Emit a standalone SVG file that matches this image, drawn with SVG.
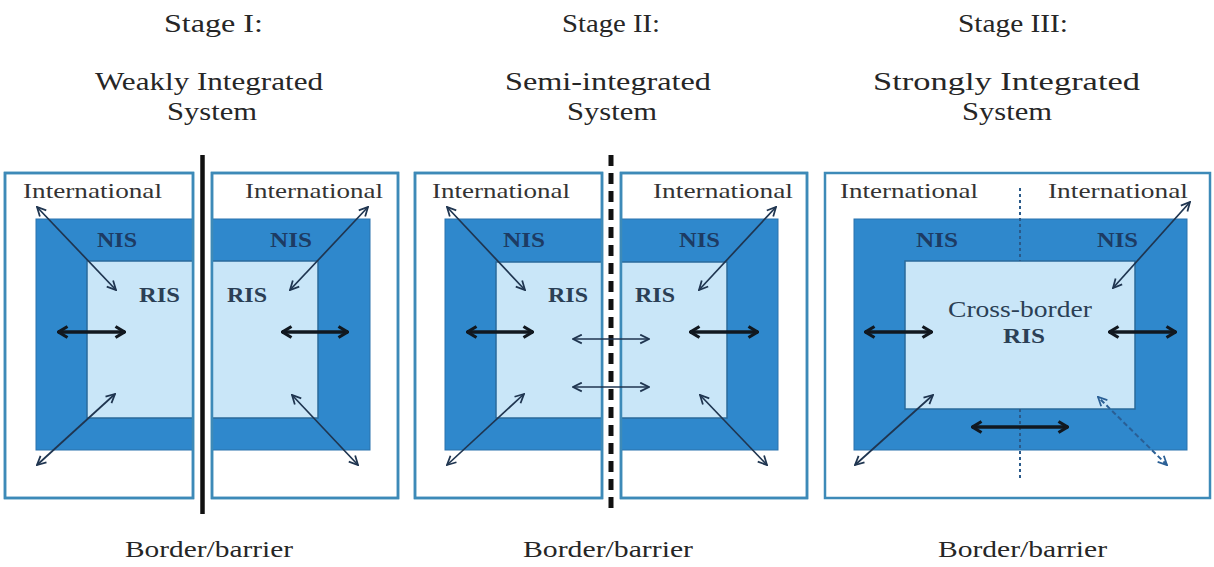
<svg xmlns="http://www.w3.org/2000/svg" width="1214" height="567" viewBox="0 0 1214 567">
<defs>
<style>
.title{font-family:"Liberation Serif","Times New Roman",serif;font-size:25px;fill:#262626}
.foot{font-family:"Liberation Serif","Times New Roman",serif;font-size:24px;fill:#262626}
.intl{font-family:"Liberation Serif","Times New Roman",serif;font-size:22px;fill:#333333}
.nis{font-family:"Liberation Serif","Times New Roman",serif;font-size:21px;font-weight:bold;fill:#1d3b63}
.ris{font-family:"Liberation Serif","Times New Roman",serif;font-size:21px;font-weight:bold;fill:#2b3f55}
.cb{font-family:"Liberation Serif","Times New Roman",serif;font-size:23px;fill:#2b3f55}
.outer{fill:#ffffff;stroke:#3d8ab8;stroke-width:2.5}
.nisr{fill:#2f88cc;stroke:#2a72ad;stroke-width:1}
.risr{fill:#c9e6f8;stroke:#2a6a9a;stroke-width:1.5}
.thin{stroke:#1f3550;stroke-width:1.7;fill:none;marker-start:url(#mThin);marker-end:url(#mThin)}
.thick{stroke:#111820;stroke-width:3.5;fill:none;marker-start:url(#mThick);marker-end:url(#mThick)}
.dash{stroke:#2a5f95;stroke-width:2;stroke-dasharray:5 3;fill:none;marker-start:url(#mDash);marker-end:url(#mDash)}
</style>
<marker id="mThin" viewBox="0 0 10 10" refX="9" refY="5" markerWidth="11" markerHeight="11" markerUnits="userSpaceOnUse" orient="auto-start-reverse">
<path d="M1,1 L9,5 L1,9" fill="none" stroke="#1f3550" stroke-width="1.6"/>
</marker>
<marker id="mThick" viewBox="0 0 12 14" refX="11" refY="7" markerWidth="12" markerHeight="14" markerUnits="userSpaceOnUse" orient="auto-start-reverse">
<path d="M1.5,1.5 L10.5,7 L1.5,12.5" fill="none" stroke="#111820" stroke-width="3.2"/>
</marker>
<marker id="mDash" viewBox="0 0 10 10" refX="9" refY="5" markerWidth="11" markerHeight="11" markerUnits="userSpaceOnUse" orient="auto-start-reverse">
<path d="M1,1 L9,5 L1,9" fill="none" stroke="#2a5f95" stroke-width="1.6"/>
</marker>
</defs>
<rect width="1214" height="567" fill="#ffffff"/>

<g id="titles">
<text class="title" x="164" y="32" textLength="99" lengthAdjust="spacingAndGlyphs">Stage I:</text>
<text class="title" x="562" y="32" textLength="98" lengthAdjust="spacingAndGlyphs">Stage II:</text>
<text class="title" x="958" y="32" textLength="110" lengthAdjust="spacingAndGlyphs">Stage III:</text>
<text class="title" x="95" y="90" textLength="228" lengthAdjust="spacingAndGlyphs">Weakly Integrated</text>
<text class="title" x="505" y="90" textLength="206" lengthAdjust="spacingAndGlyphs">Semi-integrated</text>
<text class="title" x="873" y="90" textLength="267" lengthAdjust="spacingAndGlyphs">Strongly Integrated</text>
<text class="title" x="167" y="120" textLength="90" lengthAdjust="spacingAndGlyphs">System</text>
<text class="title" x="567" y="120" textLength="90" lengthAdjust="spacingAndGlyphs">System</text>
<text class="title" x="962" y="120" textLength="90" lengthAdjust="spacingAndGlyphs">System</text>
</g>

<g id="s1-left">
<rect class="outer" x="5" y="173" width="188" height="325"/>
<rect class="nisr" x="36" y="219" width="157" height="231"/>
<rect class="risr" x="87" y="261" width="106" height="157"/>
<rect x="5" y="173" width="188" height="325" fill="none" stroke="#3d8ab8" stroke-width="2.5"/>
<text class="intl" x="23" y="198" textLength="139" lengthAdjust="spacingAndGlyphs">International</text>
<text class="nis" x="97" y="247" textLength="40" lengthAdjust="spacingAndGlyphs">NIS</text>
<text class="ris" x="139" y="302" textLength="41" lengthAdjust="spacingAndGlyphs">RIS</text>
</g>
<g id="s1-right">
<rect class="outer" x="212" y="173" width="186" height="325"/>
<rect class="nisr" x="212" y="219" width="158" height="231"/>
<rect class="risr" x="212" y="261" width="106" height="157"/>
<rect x="212" y="173" width="186" height="325" fill="none" stroke="#3d8ab8" stroke-width="2.5"/>
<text class="intl" x="245" y="198" textLength="138" lengthAdjust="spacingAndGlyphs">International</text>
<text class="nis" x="270" y="247" textLength="42" lengthAdjust="spacingAndGlyphs">NIS</text>
<text class="ris" x="227" y="302" textLength="40" lengthAdjust="spacingAndGlyphs">RIS</text>
</g>

<g id="s2-left">
<rect class="outer" x="415" y="173" width="187" height="325"/>
<rect class="nisr" x="445" y="219" width="157" height="231"/>
<rect class="risr" x="496" y="262" width="106" height="156"/>
<rect x="415" y="173" width="187" height="325" fill="none" stroke="#3d8ab8" stroke-width="2.5"/>
<text class="intl" x="432" y="198" textLength="138" lengthAdjust="spacingAndGlyphs">International</text>
<text class="nis" x="503" y="247" textLength="42" lengthAdjust="spacingAndGlyphs">NIS</text>
<text class="ris" x="548" y="302" textLength="40" lengthAdjust="spacingAndGlyphs">RIS</text>
</g>
<g id="s2-right">
<rect class="outer" x="621" y="173" width="186" height="325"/>
<rect class="nisr" x="621" y="219" width="157" height="231"/>
<rect class="risr" x="621" y="262" width="106" height="156"/>
<rect x="621" y="173" width="186" height="325" fill="none" stroke="#3d8ab8" stroke-width="2.5"/>
<text class="intl" x="653" y="198" textLength="140" lengthAdjust="spacingAndGlyphs">International</text>
<text class="nis" x="679" y="247" textLength="41" lengthAdjust="spacingAndGlyphs">NIS</text>
<text class="ris" x="635" y="302" textLength="40" lengthAdjust="spacingAndGlyphs">RIS</text>
</g>

<g id="s3">
<rect class="outer" x="825" y="173" width="385" height="325"/>
<rect class="nisr" x="854" y="219" width="333" height="231"/>
<rect class="risr" x="905" y="261" width="230" height="148"/>
<text class="intl" x="840" y="198" textLength="138" lengthAdjust="spacingAndGlyphs">International</text>
<text class="intl" x="1048" y="198" textLength="140" lengthAdjust="spacingAndGlyphs">International</text>
<text class="nis" x="916" y="247" textLength="42" lengthAdjust="spacingAndGlyphs">NIS</text>
<text class="nis" x="1097" y="247" textLength="41" lengthAdjust="spacingAndGlyphs">NIS</text>
<text class="cb" x="948" y="317" textLength="144" lengthAdjust="spacingAndGlyphs">Cross-border</text>
<text class="ris" x="1003" y="343" textLength="42" lengthAdjust="spacingAndGlyphs">RIS</text>
</g>

<g id="barriers">
<line x1="202.5" y1="155" x2="202.5" y2="514" stroke="#111111" stroke-width="4.5"/>
<line x1="611" y1="155" x2="611" y2="515" stroke="#111111" stroke-width="5" stroke-dasharray="11 7"/>
<line x1="1020" y1="188" x2="1020" y2="261" stroke="#2a5a8a" stroke-width="2" stroke-dasharray="3 3"/>
<line x1="1020" y1="409" x2="1020" y2="480" stroke="#2a5a8a" stroke-width="2" stroke-dasharray="3 3"/>
</g>

<g id="connectors">
<line class="thin" x1="37" y1="207" x2="116" y2="290"/>
<line class="thin" x1="37" y1="465" x2="115" y2="394"/>
<line class="thick" x1="58" y1="332" x2="125" y2="332"/>
<line class="thin" x1="368" y1="207" x2="290" y2="290"/>
<line class="thin" x1="358" y1="465" x2="292" y2="395"/>
<line class="thick" x1="282" y1="332" x2="348" y2="332"/>

<line class="thin" x1="447" y1="207" x2="525" y2="290"/>
<line class="thin" x1="447" y1="465" x2="524" y2="394"/>
<line class="thick" x1="467" y1="332" x2="533" y2="332"/>
<line class="thin" x1="776" y1="207" x2="699" y2="290"/>
<line class="thin" x1="767" y1="465" x2="700" y2="395"/>
<line class="thick" x1="690" y1="332" x2="758" y2="332"/>
<line class="thin" x1="573" y1="339" x2="649" y2="339"/>
<line class="thin" x1="573" y1="387" x2="649" y2="387"/>

<line class="thin" x1="1190" y1="202" x2="1113" y2="288"/>
<line class="thick" x1="865" y1="332" x2="932" y2="332"/>
<line class="thick" x1="1109" y1="332" x2="1176" y2="332"/>
<line class="thin" x1="855" y1="465" x2="933" y2="395"/>
<line class="thick" x1="972" y1="427" x2="1068" y2="427"/>
<line class="dash" x1="1167" y1="465" x2="1098" y2="397"/>
</g>

<g id="footers">
<text class="foot" x="125" y="557" textLength="168" lengthAdjust="spacingAndGlyphs">Border/barrier</text>
<text class="foot" x="523" y="557" textLength="170" lengthAdjust="spacingAndGlyphs">Border/barrier</text>
<text class="foot" x="938" y="557" textLength="169" lengthAdjust="spacingAndGlyphs">Border/barrier</text>
</g>
</svg>
